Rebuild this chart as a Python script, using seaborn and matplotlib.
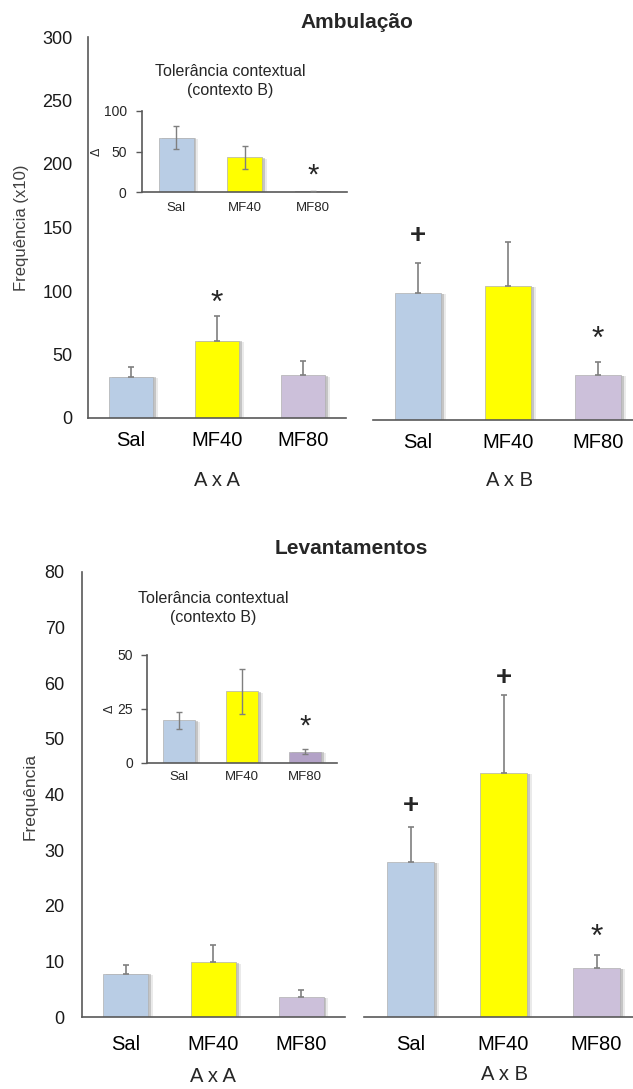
import matplotlib
matplotlib.use("Agg")
import matplotlib.pyplot as plt
import matplotlib.patheffects as pe
import seaborn as sns

# dados
grupos = ["Sal", "MF40", "MF80"]

# Ambulação (x10)
amb_AA = [32.5, 61, 33.5]
amb_AA_err = [7.5, 19.5, 11.5]
amb_AB = [100, 105.5, 35.5]
amb_AB_err = [23.5, 34.5, 10.5]
amb_delta = [67, 43, 1]
amb_delta_err = [14.5, 14, 0.4]

# Levantamentos
lev_AA = [7.8, 9.8, 3.6]
lev_AA_err = [1.6, 3.1, 1.2]
lev_AB = [27.9, 43.9, 8.8]
lev_AB_err = [6.2, 14, 2.3]
lev_delta = [19.7, 33.2, 5.2]
lev_delta_err = [4.1, 10.4, 1.2]

cores = ["#B9CDE5", "#FFFF00", "#CCC0DA"]
cores_ins2 = ["#B9CDE5", "#FFFF00", "#B3A2C7"]

sns.set_theme(style="white")
plt.rcParams["font.family"] = ["Liberation Sans", "DejaVu Sans"]

W, H = 633, 1089
fig = plt.figure(figsize=(W / 100, H / 100), dpi=100)


def caixa(l, t, r, b):
    return [l / W, 1 - b / H, (r - l) / W, (b - t) / H]


def texto(x, y, s, **kw):
    fig.text(x / W, 1 - y / H, s, ha="center", va="center", **kw)


def barras(ax, vals, errs, pal, ylim, so_cima=True, cap=2.5, lw=1.2):
    sns.barplot(x=grupos, y=vals, hue=grupos, palette=pal, legend=False, ax=ax,
                width=0.51, saturation=1, edgecolor="#b0b0b0", linewidth=0.5)
    if so_cima:
        yerr = [[0, 0, 0], errs]
    else:
        yerr = errs
    ax.errorbar(range(3), vals, yerr=yerr, fmt="none", ecolor="#7f7f7f",
                elinewidth=lw, capsize=cap, capthick=lw, zorder=5)
    # sombra suave à direita das barras (estilo Excel)
    for p in ax.patches:
        p.set_path_effects([
            pe.SimplePatchShadow(offset=(3.5, -1), shadow_rgbFace="#909090", alpha=0.18),
            pe.SimplePatchShadow(offset=(2, -0.5), shadow_rgbFace="#808080", alpha=0.35),
            pe.Normal()])
    ax.set_xlim(-0.5, 2.5)
    ax.set_ylim(*ylim)
    ax.set_xlabel("")
    ax.set_ylabel("")
    ax.patch.set_alpha(0)
    for s in ["top", "right"]:
        ax.spines[s].set_visible(False)
    for s in ["left", "bottom"]:
        ax.spines[s].set_color("#595959")
        ax.spines[s].set_linewidth(1.2)


# ---------- Ambulação ----------
ax1 = fig.add_axes(caixa(88, 37, 346, 418))
barras(ax1, amb_AA, amb_AA_err, cores, (0, 300))
ax1.set_yticks([0, 50, 100, 150, 200, 250, 300])
ax1.tick_params(axis="y", length=0, pad=11, labelsize=13, labelcolor="#1a1a1a")
ax1.tick_params(axis="x", length=0, pad=9, labelsize=14.5, labelcolor="#000000")
ax1.text(1, 90, "*", ha="center", va="center", fontsize=23)

ax2 = fig.add_axes(caixa(373, 39, 643, 420))
barras(ax2, amb_AB, amb_AB_err, cores, (0, 300))
ax2.spines["left"].set_visible(False)
ax2.set_yticks([])
ax2.tick_params(axis="x", length=0, pad=9, labelsize=14.5, labelcolor="#000000")
ax2.text(0, 145, "+", ha="center", va="center", fontsize=20, fontweight="bold")
ax2.text(2, 63, "*", ha="center", va="center", fontsize=23)

ins1 = fig.add_axes(caixa(142, 111, 347, 192))
barras(ins1, amb_delta, amb_delta_err, cores, (0, 100), so_cima=False, cap=2.5, lw=1.0)
ins1.set_yticks([0, 50, 100])
ins1.tick_params(axis="y", length=4, width=1, color="#595959", pad=7, labelsize=10, left=True)
ins1.tick_params(axis="x", length=0, pad=7, labelsize=9.5)
ins1.set_ylabel("Δ", fontsize=9, labelpad=1)
ins1.text(2, 20, "*", ha="center", va="center", fontsize=21)

texto(230, 81, "Tolerância contextual\n(contexto B)", fontsize=11.5, linespacing=1.3)
texto(357, 22, "Ambulação", fontsize=15, fontweight="bold")
texto(22, 228, "Frequência (x10)", fontsize=12, rotation=90, color="#404040")
texto(217, 480, "A x A", fontsize=14.5)
texto(510, 480, "A x B", fontsize=14.5)

# ---------- Levantamentos ----------
ax3 = fig.add_axes(caixa(82, 572, 345, 1017))
barras(ax3, lev_AA, lev_AA_err, cores, (0, 80))
ax3.set_yticks(range(0, 81, 10))
ax3.tick_params(axis="y", length=0, pad=12.5, labelsize=13, labelcolor="#1a1a1a")
ax3.tick_params(axis="x", length=0, pad=13, labelsize=14.5, labelcolor="#000000")

ax4 = fig.add_axes(caixa(364, 572, 643, 1017))
barras(ax4, lev_AB, lev_AB_err, cores, (0, 80))
ax4.spines["left"].set_visible(False)
ax4.set_yticks([])
ax4.tick_params(axis="x", length=0, pad=13, labelsize=14.5, labelcolor="#000000")
ax4.text(0, 38, "+", ha="center", va="center", fontsize=20, fontweight="bold")
ax4.text(1, 61, "+", ha="center", va="center", fontsize=20, fontweight="bold")
ax4.text(2, 14.2, "*", ha="center", va="center", fontsize=23)

ins2 = fig.add_axes(caixa(147, 655, 337, 763))
barras(ins2, lev_delta, lev_delta_err, cores_ins2, (0, 50), so_cima=False, cap=2.5, lw=1.0)
ins2.set_yticks([0, 25, 50])
ins2.tick_params(axis="y", length=4, width=1, color="#595959", pad=6, labelsize=10, left=True)
ins2.tick_params(axis="x", length=0, pad=6, labelsize=9.5)
ins2.set_ylabel("Δ", fontsize=9, labelpad=1)
ins2.text(2, 17, "*", ha="center", va="center", fontsize=21)

texto(213, 608, "Tolerância contextual\n(contexto B)", fontsize=11.5, linespacing=1.3)
texto(351, 548, "Levantamentos", fontsize=15, fontweight="bold")
texto(30, 797, "Frequência", fontsize=12.5, rotation=90, color="#404040")
texto(213, 1077, "A x A", fontsize=14.5)
texto(505, 1075, "A x B", fontsize=14.5)

fig.savefig("out.png", dpi=100)
plt.close()
